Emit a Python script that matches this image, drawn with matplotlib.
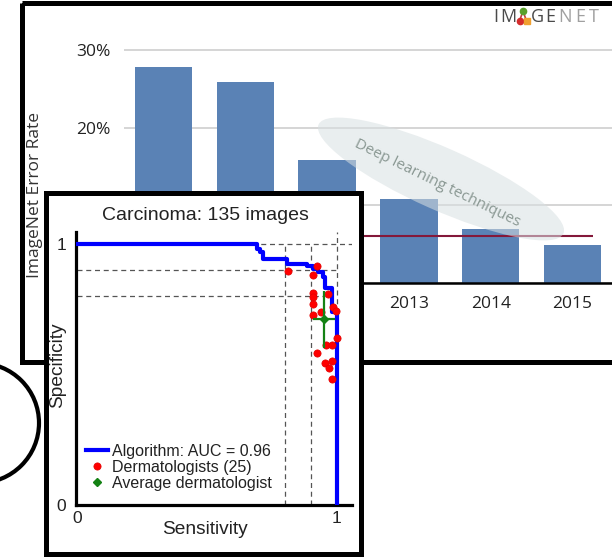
import matplotlib
matplotlib.use('Agg')
import matplotlib.pyplot as plt
from matplotlib.patches import Rectangle, Ellipse

W, H, DPI = 612, 557, 100

# ---------------- background ImageNet chart data ----------------
years = ['2010', '2011', '2012', '2013', '2014', '2015']
error_rate = [27.8, 25.9, 15.8, 10.8, 6.9, 4.9]
human_error = 6.0
err_ticks = [0, 10, 20, 30]
err_tick_labels = ['', '', '20%', '30%']   # 0% and 10% are hidden under the inset

# ---------------- inset ROC data ----------------
roc_sens = [0.0, 0.691, 0.704, 0.717, 0.807, 0.883, 0.909, 0.928, 0.945, 0.954, 0.982, 1.0]
roc_spec = [1.0, 0.982, 0.969, 0.944, 0.925, 0.915, 0.905, 0.893, 0.874, 0.831, 0.739, 0.0]
derm_sens = [0.812, 0.907, 0.922, 0.908, 0.908, 0.908, 0.908, 0.938, 0.966, 0.985,
             0.998, 0.999, 0.957, 0.982, 0.924, 0.954, 0.969, 0.982, 0.982]
derm_spec = [0.897, 0.882, 0.914, 0.812, 0.797, 0.769, 0.728, 0.739, 0.810, 0.759,
             0.742, 0.639, 0.613, 0.613, 0.584, 0.543, 0.526, 0.553, 0.483]
avg_sens, avg_spec = 0.950, 0.711
avg_sens_err, avg_spec_err = 0.044, 0.11
ref_sens = [0.8, 0.9]
ref_spec = [1.0, 0.9, 0.8]

logo_letters = ['I', 'M', 'G', 'E', 'N', 'E', 'T']
logo_x = [496, 508, 537, 550, 565, 580, 594]
logo_colors = ['#4a4a4a'] * 4 + ['#a0a0a0'] * 3


def fig_rect(l, t, r, b):
    return [l / W, 1 - b / H, (r - l) / W, (b - t) / H]


fig = plt.figure(figsize=(W / DPI, H / DPI), dpi=DPI)
fig.patch.set_facecolor('white')

# ---- layer 0: full-figure pixel axes (frame + logo + ylabel)
ax_bg = fig.add_axes([0, 0, 1, 1], zorder=0)
ax_bg.set_xlim(0, W)
ax_bg.set_ylim(H, 0)
ax_bg.axis('off')
ax_bg.add_patch(Rectangle((22, 3), 800, 359, fill=False, edgecolor='black', lw=3.6))
ax_bg.text(35, 195, 'ImageNet Error Rate', rotation=90, ha='center', va='center',
           fontsize=12.5, family='Open Sans', color='#333333')
# logo
for ch, xx, cc in zip(logo_letters, logo_x, logo_colors):
    ax_bg.text(xx, 17, ch, ha='center', va='center', fontsize=13, family='Open Sans',
               color=cc)
ax_bg.plot([523, 519.5], [11, 21], color='#c04040', lw=1.2)
ax_bg.plot([523, 526.5], [11, 21], color='#c04040', lw=1.2)
ax_bg.plot([523], [11], 'o', color='#5aa02c', ms=4.5)
ax_bg.plot([519.5], [21], 'o', color='#d42b2b', ms=4.5)
ax_bg.plot([526.5], [21], 's', color='#f0a030', ms=4)

# ---- layer 1: bar chart
px_per_pct = 7.77
ax_bar = fig.add_axes(fig_rect(124, 283 - 31 * px_per_pct, 612, 283), zorder=1)
ax_bar.patch.set_alpha(0)
ax_bar.set_xlim(-0.483, 5.483)
ax_bar.set_ylim(0, 31)
ax_bar.bar(range(len(years)), error_rate, width=0.7, color='#5a82b5', zorder=2)
ax_bar.hlines(human_error, 2.0, 5.25, color='#84183a', lw=1.5, zorder=3)
ax_bar.set_yticks(err_ticks)
ax_bar.set_yticklabels(err_tick_labels)
ax_bar.set_xticks(range(len(years)))
ax_bar.set_xticklabels(years)
ax_bar.yaxis.grid(True, color='#d2d2d2', lw=1.3)
ax_bar.set_axisbelow(True)
for s in ['left', 'right', 'top']:
    ax_bar.spines[s].set_visible(False)
ax_bar.spines['bottom'].set_linewidth(1.8)
ax_bar.spines['bottom'].set_color('black')
ax_bar.tick_params(axis='both', length=0, labelsize=12.5, colors='#222222')
ax_bar.tick_params(axis='x', pad=9)
ax_bar.tick_params(axis='y', pad=10)
for lab in ax_bar.get_xticklabels() + ax_bar.get_yticklabels():
    lab.set_family('Open Sans')

# ---- layer 2: overlay pixel axes (ellipse, inset box, arc)
ax_mid = fig.add_axes([0, 0, 1, 1], zorder=2)
ax_mid.set_xlim(0, W)
ax_mid.set_ylim(H, 0)
ax_mid.axis('off')
ax_mid.patch.set_alpha(0)
ax_mid.add_patch(Ellipse((441, 179), 268, 62, angle=24, facecolor='#d8e0e2',
                         alpha=0.55, edgecolor='none'))
ax_mid.text(437, 183, 'Deep learning techniques', rotation=-26, ha='center', va='center',
            rotation_mode='anchor', fontsize=11, family='Open Sans', color='#8a9893')
ax_mid.add_patch(Rectangle((45.5, 192.5), 315, 361.5, facecolor='white',
                           edgecolor='black', lw=3.6, zorder=5))
ax_mid.add_patch(Ellipse((-21, 423), 120, 120, fill=False, edgecolor='black', lw=3))
ax_mid.text(205, 220, 'Carcinoma: 135 images', ha='center', va='baseline',
            fontsize=14, family='Liberation Sans', color='#222222', zorder=6)

# ---- layer 3: ROC axes
ax = fig.add_axes(fig_rect(76, 232, 352, 505), zorder=3)
ax.patch.set_alpha(0)
ax.set_xlim(-0.0038, 1.0577)
ax.set_ylim(0, 1.046)
dash = dict(color='#555555', lw=0.9, ls=(0, (4, 3)))
for s in ref_sens:
    ax.plot([s, s], [0, 1.0], **dash)
ax.plot([1.0, 1.0], [0, 1.046], **dash)
ax.plot([0, 1.0577], [ref_spec[0]] * 2, **dash)
ax.plot([0, 1.0], [ref_spec[1]] * 2, **dash)
ax.plot([0, 0.95], [ref_spec[2]] * 2, **dash)

ax.plot(roc_sens, roc_spec, drawstyle='steps-post', color='#0000ff', lw=3,
        label='Algorithm: AUC = 0.96', zorder=3)
ax.plot(derm_sens, derm_spec, 'o', color='#ff0000', ms=5.2, mec='#e00000', mew=0.5,
        label='Dermatologists (25)', zorder=4)
ax.errorbar([avg_sens], [avg_spec], xerr=[avg_sens_err], yerr=[avg_spec_err],
            fmt='none', ecolor='#148214', elinewidth=1.6, capsize=0, zorder=5)
ax.plot([avg_sens], [avg_spec], 'D', color='#148214', ms=4.5,
        label='Average dermatologist', zorder=6)

for s in ['right', 'top']:
    ax.spines[s].set_visible(False)
for s in ['left', 'bottom']:
    ax.spines[s].set_linewidth(2.3)
    ax.spines[s].set_color('black')
ax.set_xticks([0, 1])
ax.set_xticklabels(['0', '1'])
ax.set_yticks([0, 1])
ax.set_yticklabels(['0', '1'])
ax.tick_params(axis='both', length=0, labelsize=12.5, colors='#222222')
ax.tick_params(axis='x', pad=4)
ax.tick_params(axis='y', pad=7)
for lab in ax.get_xticklabels() + ax.get_yticklabels():
    lab.set_family('Liberation Sans')
ax.set_xlabel('Sensitivity', fontsize=13.8, family='Liberation Sans', color='#222222')
ax.set_ylabel('Specificity', fontsize=13.8, family='Liberation Sans', color='#222222')
ax.xaxis.set_label_coords((205 - 76) / 276, -(521 - 505) / 273)
ax.yaxis.set_label_coords(-(76 - 66) / 276, (505 - 365) / 273)

leg = ax.legend(loc='upper left', bbox_to_anchor=(86 / W, 1 - 444 / H),
                bbox_transform=fig.transFigure, frameon=False,
                prop={'family': 'Liberation Sans', 'size': 11.5},
                handlelength=1.4, handletextpad=0.2, labelspacing=0.05,
                borderpad=0, borderaxespad=0)
for t in leg.get_texts():
    t.set_color('#222222')

fig.savefig('out.png', dpi=DPI)
